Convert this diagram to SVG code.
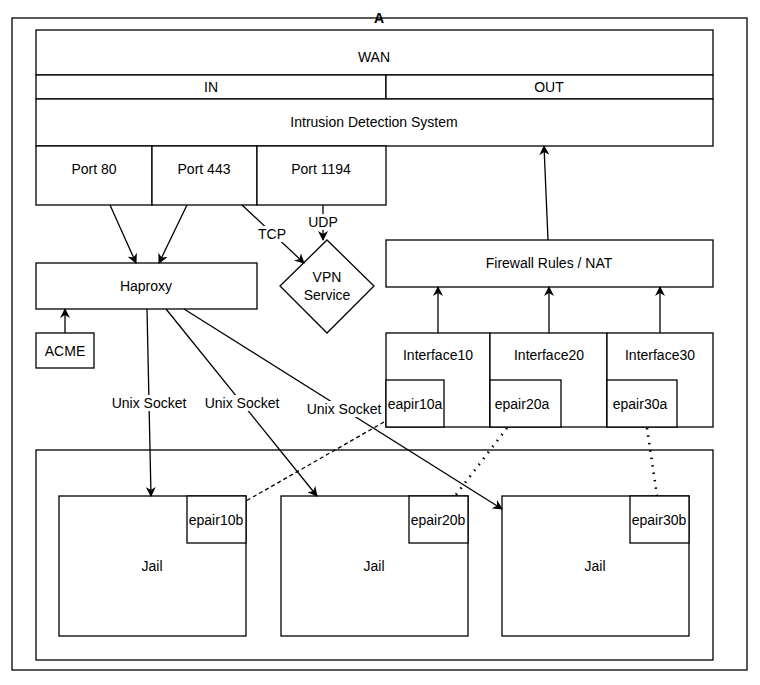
<svg xmlns="http://www.w3.org/2000/svg" width="760" height="685" viewBox="0 0 760 685">
<defs>
<style>
.b{fill:#fff;stroke:#000;stroke-width:1.3}
.t{font-family:"Liberation Sans",Arial,sans-serif;font-size:14px;fill:#000;text-anchor:middle;dominant-baseline:central}
.c{fill:none;stroke:#000;stroke-width:1.3}
.d{fill:none;stroke:#000;stroke-width:2.6;stroke-dasharray:1.5 6;stroke-linecap:butt}
.lbl{fill:#fff;stroke:none}
</style>
<marker id="ah" viewBox="0 0 10 10" refX="9" refY="5" markerWidth="10" markerHeight="10" markerUnits="userSpaceOnUse" orient="auto">
<path d="M0,0 L10,5 L0,10 L3,5 Z" fill="#000"/>
</marker>
</defs>
<rect x="0" y="0" width="760" height="685" fill="#fff"/>
<g id="frame">
<rect x="12" y="18" width="735" height="652" class="b"/>
<text x="379" y="18" class="t" font-weight="bold">A</text>
</g>
<g id="wan"><rect x="36" y="30" width="677" height="45" class="b"/><text x="374" y="57" class="t">WAN</text></g>
<g id="in"><rect x="36" y="75" width="350" height="24" class="b"/><text x="211" y="87" class="t">IN</text></g>
<g id="out"><rect x="386" y="75" width="327" height="24" class="b"/><text x="549" y="87" class="t">OUT</text></g>
<g id="ids"><rect x="36" y="99" width="677" height="47" class="b"/><text x="374" y="122" class="t">Intrusion Detection System</text></g>
<g id="port80"><rect x="36" y="146" width="116" height="59" class="b"/><text x="94" y="169" class="t">Port 80</text></g>
<g id="port443"><rect x="152" y="146" width="105" height="59" class="b"/><text x="204" y="169" class="t">Port 443</text></g>
<g id="port1194"><rect x="257" y="146" width="129" height="59" class="b"/><text x="321" y="169" class="t">Port 1194</text></g>
<g id="haproxy"><rect x="36" y="263" width="221" height="46" class="b"/><text x="146" y="286" class="t">Haproxy</text></g>
<g id="acme"><rect x="36" y="333" width="58" height="35" class="b"/><text x="65" y="351" class="t">ACME</text></g>
<g id="vpn"><path d="M327,240 L374,286 L327,333 L280,286 Z" class="b"/><text x="327" y="277" class="t">VPN</text><text x="327" y="295" class="t">Service</text></g>
<g id="firewall"><rect x="386" y="240" width="327" height="47" class="b"/><text x="549" y="263" class="t">Firewall Rules / NAT</text></g>
<g id="if10"><rect x="386" y="333" width="104" height="94" class="b"/><text x="438" y="355" class="t">Interface10</text></g>
<g id="if20"><rect x="490" y="333" width="117" height="94" class="b"/><text x="549" y="355" class="t">Interface20</text></g>
<g id="if30"><rect x="607" y="333" width="106" height="94" class="b"/><text x="660" y="355" class="t">Interface30</text></g>
<g id="epair10a"><rect x="386" y="380" width="58" height="47" class="b"/><text x="415" y="404" class="t">eapir10a</text></g>
<g id="epair20a"><rect x="490" y="380" width="71" height="47" class="b"/><text x="522" y="404" class="t">epair20a</text></g>
<g id="epair30a"><rect x="607" y="380" width="70" height="47" class="b"/><text x="640" y="404" class="t">epair30a</text></g>
<g id="jails"><rect x="36" y="450" width="677" height="210" class="b"/></g>
<g id="jail1"><rect x="59" y="496" width="187" height="140" class="b"/><text x="152" y="566" class="t">Jail</text></g>
<g id="jail2"><rect x="281" y="496" width="187" height="140" class="b"/><text x="374" y="566" class="t">Jail</text></g>
<g id="jail3"><rect x="502" y="496" width="187" height="140" class="b"/><text x="595" y="566" class="t">Jail</text></g>
<g id="epair10b"><rect x="187" y="496" width="59" height="47" class="b"/><text x="216" y="520" class="t">epair10b</text></g>
<g id="epair20b"><rect x="409" y="496" width="59" height="47" class="b"/><text x="438" y="520" class="t">epair20b</text></g>
<g id="epair30b"><rect x="630" y="496" width="59" height="47" class="b"/><text x="659" y="520" class="t">epair30b</text></g>
<g id="connectors">
<line x1="110" y1="205" x2="136" y2="263" class="c" marker-end="url(#ah)"/>
<line x1="187" y1="205" x2="159" y2="263" class="c" marker-end="url(#ah)"/>
<line x1="242" y1="205" x2="304" y2="263" class="c" marker-end="url(#ah)"/>
<line x1="323" y1="205" x2="323" y2="240" class="c" marker-end="url(#ah)"/>
<line x1="65" y1="333" x2="65" y2="309" class="c" marker-end="url(#ah)"/>
<line x1="548" y1="240" x2="544" y2="146" class="c" marker-end="url(#ah)"/>
<line x1="438" y1="333" x2="438" y2="287" class="c" marker-end="url(#ah)"/>
<line x1="549" y1="333" x2="549" y2="287" class="c" marker-end="url(#ah)"/>
<line x1="660" y1="333" x2="660" y2="287" class="c" marker-end="url(#ah)"/>
<line x1="147" y1="309" x2="151" y2="496" class="c" marker-end="url(#ah)"/>
<line x1="166" y1="309" x2="317" y2="496" class="c" marker-end="url(#ah)"/>
<line x1="184" y1="309" x2="502" y2="509" class="c" marker-end="url(#ah)"/>
<line x1="384" y1="422" x2="246" y2="501" class="c" stroke-dasharray="4 3"/>
<line x1="507" y1="428" x2="455" y2="496" class="d"/>
<line x1="647" y1="428" x2="657" y2="496" class="d"/>
<rect x="257" y="226" width="30" height="16" class="lbl"/><text x="272" y="234" class="t">TCP</text>
<rect x="308" y="214" width="32" height="16" class="lbl"/><text x="323" y="222" class="t">UDP</text>
<rect x="111" y="395" width="78" height="16" class="lbl"/><text x="149" y="403" class="t">Unix Socket</text>
<rect x="203" y="395" width="78" height="16" class="lbl"/><text x="242" y="403" class="t">Unix Socket</text>
<rect x="305" y="401" width="78" height="16" class="lbl"/><text x="344" y="409" class="t">Unix Socket</text>
</g>
</svg>
